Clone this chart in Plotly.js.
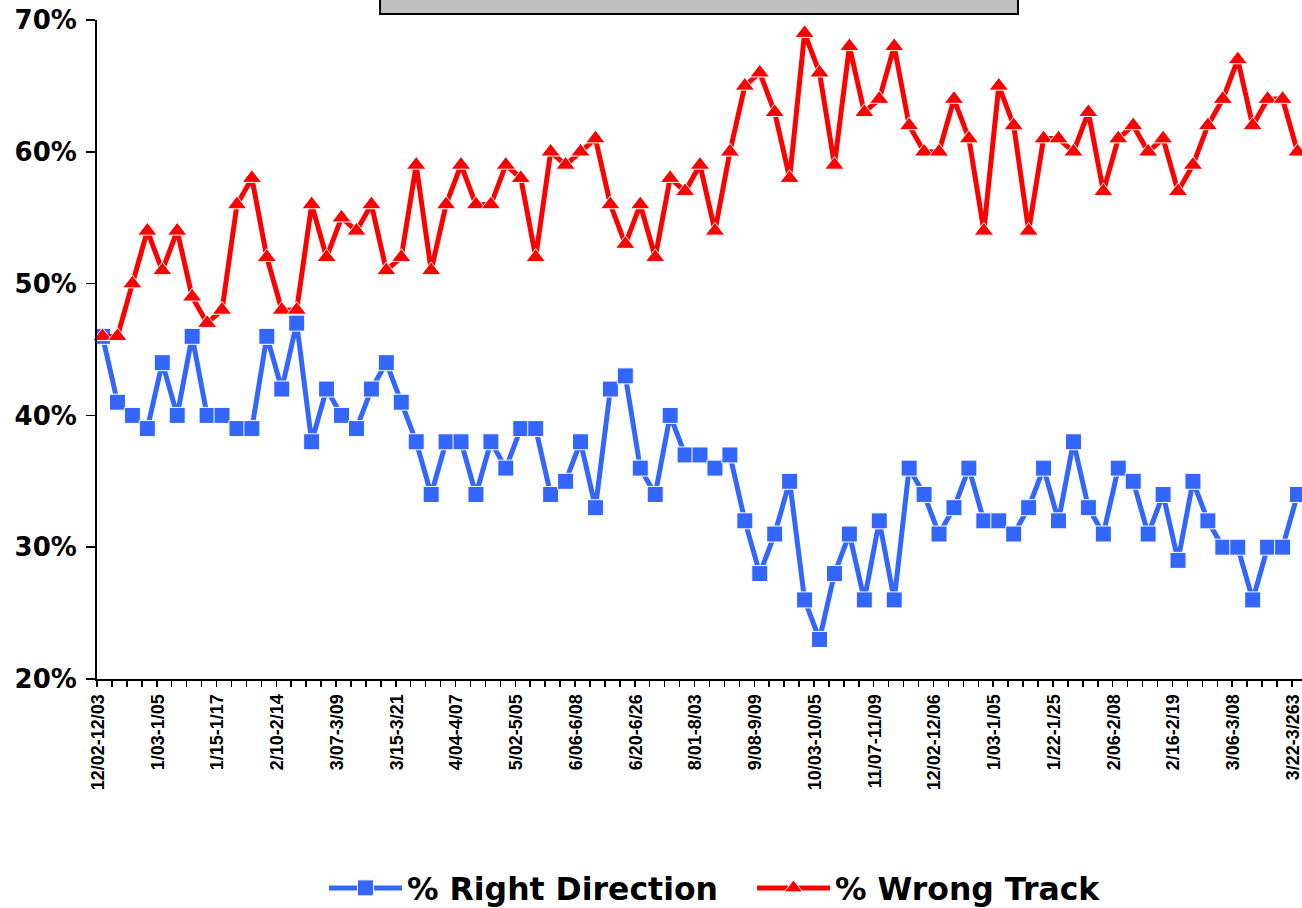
<!DOCTYPE html>
<html>
<head>
<meta charset="utf-8">
<script src="https://cdn.plot.ly/plotly-3.0.1.min.js"></script>
<style>
html, body { margin: 0; padding: 0; background: #ffffff; }
#chart { width: 1302px; height: 908px; }
</style>
</head>
<body>
<div id="chart"></div>
<script>
// Every 4th poll date is labelled on the category axis
const tickLabels = [
  "12/02-12/03", "1/03-1/05", "1/15-1/17", "2/10-2/14", "3/07-3/09",
  "3/15-3/21", "4/04-4/07", "5/02-5/05", "6/06-6/08", "6/20-6/26",
  "8/01-8/03", "9/08-9/09", "10/03-10/05", "11/07-11/09", "12/02-12/06",
  "1/03-1/05", "1/22-1/25", "2/06-2/08", "2/16-2/19", "3/06-3/08",
  "3/22-3/263"
];

// % Right Direction (one value per poll)
const rightDirection = [
  46, 41, 40, 39, 44, 40, 46, 40, 40, 39,
  39, 46, 42, 47, 38, 42, 40, 39, 42, 44,
  41, 38, 34, 38, 38, 34, 38, 36, 39, 39,
  34, 35, 38, 33, 42, 43, 36, 34, 40, 37,
  37, 36, 37, 32, 28, 31, 35, 26, 23, 28,
  31, 26, 32, 26, 36, 34, 31, 33, 36, 32,
  32, 31, 33, 36, 32, 38, 33, 31, 36, 35,
  31, 34, 29, 35, 32, 30, 30, 26, 30, 30,
  34
];

// % Wrong Track (one value per poll)
const wrongTrack = [
  46, 46, 50, 54, 51, 54, 49, 47, 48, 56,
  58, 52, 48, 48, 56, 52, 55, 54, 56, 51,
  52, 59, 51, 56, 59, 56, 56, 59, 58, 52,
  60, 59, 60, 61, 56, 53, 56, 52, 58, 57,
  59, 54, 60, 65, 66, 63, 58, 69, 66, 59,
  68, 63, 64, 68, 62, 60, 60, 64, 61, 54,
  65, 62, 54, 61, 61, 60, 63, 57, 61, 62,
  60, 61, 57, 59, 62, 64, 67, 62, 64, 64,
  60
];

const seriesNames = ["% Right Direction", "% Wrong Track"];

const pollIndex = rightDirection.map((_, i) => i);
// labels sit a touch left of their poll, as in the original
const tickPositions = tickLabels.map((_, i) => i * 4 - 0.3);

const BLUE = "#3366FF";
const RED = "#FF0000";

const traces = [
  {
    x: pollIndex,
    y: rightDirection,
    name: seriesNames[0],
    type: "scatter",
    mode: "lines+markers",
    line: { color: BLUE, width: 5 },
    marker: { symbol: "square", size: 16, color: BLUE, line: { color: "#ffffff", width: 1 } },
    cliponaxis: false
  },
  {
    x: pollIndex,
    y: wrongTrack,
    name: seriesNames[1],
    type: "scatter",
    mode: "lines+markers",
    line: { color: RED, width: 5 },
    marker: { symbol: "triangle-up", size: 17, color: RED, line: { color: "#ffffff", width: 1 } },
    cliponaxis: false
  }
];

const layout = {
  width: 1302,
  height: 908,
  margin: { l: 97, r: 0, t: 20, b: 229, pad: 0, autoexpand: false },
  paper_bgcolor: "#ffffff",
  plot_bgcolor: "#ffffff",
  showlegend: true,
  font: { family: "Liberation Sans, Arial, sans-serif", color: "#000000" },
  xaxis: {
    range: [-0.37, 80.3],
    tickmode: "array",
    tickvals: tickPositions,
    ticktext: tickLabels,
    tickangle: -90,
    ticklabeloverflow: "allow",
    tickfont: { family: "Liberation Sans, Arial, sans-serif", size: 18, weight: "bold", color: "#000000" },
    ticks: "outside",
    ticklen: 6,
    tickcolor: "rgba(0,0,0,0)",
    minor: { tick0: -0.37, dtick: 1, ticks: "outside", ticklen: 6, tickwidth: 1.5, tickcolor: "#000000", showgrid: false },
    showline: true,
    linecolor: "#000000",
    linewidth: 2,
    showgrid: false,
    zeroline: false,
    automargin: false,
    fixedrange: true
  },
  yaxis: {
    range: [20, 70],
    tickmode: "linear",
    tick0: 20,
    dtick: 10,
    ticksuffix: "%",
    tickfont: { family: "DejaVu Sans, sans-serif", size: 26, weight: "bold", color: "#000000" },
    ticks: "outside",
    ticklen: 9,
    tickwidth: 1.5,
    tickcolor: "#000000",
    ticklabelstandoff: 4,
    showline: true,
    linecolor: "#000000",
    linewidth: 2,
    showgrid: false,
    zeroline: false,
    automargin: false,
    fixedrange: true
  },
  legend: {
    orientation: "h",
    x: 0.1884,
    xanchor: "left",
    y: -0.317,
    yanchor: "middle",
    font: { family: "DejaVu Sans, sans-serif", size: 31.5, weight: "bold", color: "#000000" },
    itemwidth: 73,
    entrywidth: 340,
    entrywidthmode: "pixels",
    bgcolor: "rgba(0,0,0,0)"
  },
  shapes: [
    {
      type: "rect",
      xref: "paper", yref: "paper",
      x0: 0.2349, x1: 0.7643,
      y0: 1.0091, y1: 1.1,
      fillcolor: "#C0C0C0",
      line: { color: "#000000", width: 2 },
      layer: "above"
    }
  ]
};

Plotly.newPlot("chart", traces, layout, { displayModeBar: false, staticPlot: true });
</script>
</body>
</html>
